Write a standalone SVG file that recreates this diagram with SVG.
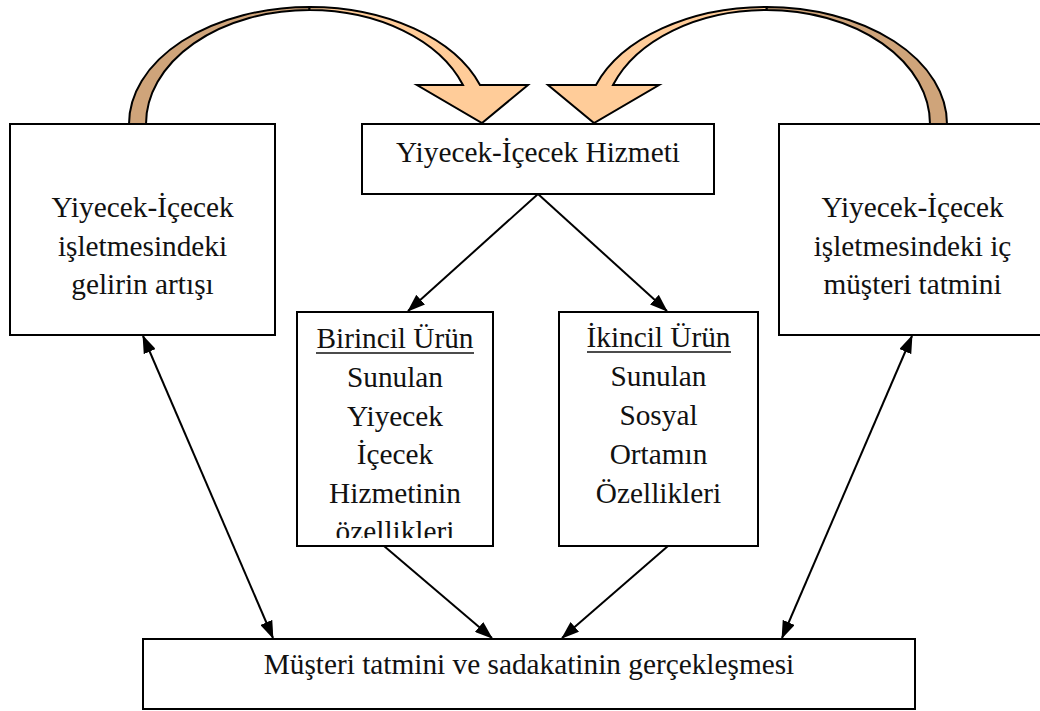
<svg xmlns="http://www.w3.org/2000/svg" width="1040" height="711" viewBox="0 0 1040 711">
  <style>
    .box { fill: #ffffff; stroke: #000000; stroke-width: 2; }
    .lbl { font-family: "Liberation Serif", "Times New Roman", serif; font-size: 29.3px; fill: #111111; text-anchor: middle; }
    .conn { stroke: #000000; stroke-width: 2; fill: none; }
    .uline { stroke: #111111; stroke-width: 1.5; }
    .band-dark { fill: #cfa47a; stroke: #000000; stroke-width: 2; stroke-linejoin: round; }
    .band-light { fill: #ffcc99; stroke: #000000; stroke-width: 2; stroke-linejoin: miter; }
  </style>
  <defs>
    <marker id="head" viewBox="0 0 18 13" markerWidth="18" markerHeight="13" refX="17" refY="6.5" orient="auto-start-reverse" markerUnits="userSpaceOnUse">
      <path d="M0,0 L18,6.5 L0,13 Z" fill="#000000"/>
    </marker>
    <clipPath id="clip-birincil">
      <rect x="297" y="312" width="196" height="226"/>
    </clipPath>
    <!-- curved ribbon arrow: dark underside on the tail, light face on the head -->
    <g id="curved-arrow-shape">
      <path class="band-dark" d="M129,124 A180.6,117 0 0 1 309.6,7 L309.4,10 A163.4,114 0 0 0 146,124 Z"/>
      <path class="band-light" d="M309.4,10 A163.4,114 0 0 1 463,85 L417,85 L482,123 L528,85 L480,85 A180.6,117 0 0 0 309.6,7 Z"/>
    </g>
  </defs>

  <!-- curved arrows from the side boxes into the service box -->
  <g id="curve-left">
    <use href="#curved-arrow-shape"/>
  </g>
  <g id="curve-right">
    <use href="#curved-arrow-shape" transform="matrix(-1 0 0 1 1076 0)"/>
  </g>

  <g id="connectors">
    <line class="conn" x1="538" y1="194" x2="408" y2="311" marker-end="url(#head)"/>
    <line class="conn" x1="538" y1="194" x2="667" y2="311" marker-end="url(#head)"/>
    <line class="conn" x1="384" y1="546" x2="492" y2="638" marker-end="url(#head)"/>
    <line class="conn" x1="668" y1="546" x2="562" y2="638" marker-end="url(#head)"/>
    <line class="conn" x1="143" y1="336" x2="273" y2="638" marker-start="url(#head)" marker-end="url(#head)"/>
    <line class="conn" x1="912" y1="336" x2="782" y2="638" marker-start="url(#head)" marker-end="url(#head)"/>
  </g>

  <g id="node-gelir">
    <rect class="box" x="10" y="124" width="265" height="211"/>
    <text class="lbl" x="142.5" y="217">Yiyecek-İçecek</text>
    <text class="lbl" x="142.5" y="255.5">işletmesindeki</text>
    <text class="lbl" x="142.5" y="294">gelirin artışı</text>
  </g>

  <g id="node-hizmet">
    <rect class="box" x="362" y="124" width="352" height="70"/>
    <text class="lbl" x="538" y="162">Yiyecek-İçecek Hizmeti</text>
  </g>

  <g id="node-ic-musteri">
    <rect class="box" x="779" y="124" width="270" height="211"/>
    <text class="lbl" x="912.5" y="217">Yiyecek-İçecek</text>
    <text class="lbl" x="912.5" y="255.5">işletmesindeki iç</text>
    <text class="lbl" x="912.5" y="294">müşteri tatmini</text>
  </g>

  <g id="node-birincil">
    <rect class="box" x="297" y="312" width="196" height="234"/>
    <g clip-path="url(#clip-birincil)">
      <text class="lbl" x="395" y="348">Birincil Ürün</text>
      <line class="uline" x1="316" y1="353" x2="474" y2="353"/>
      <text class="lbl" x="395" y="387">Sunulan</text>
      <text class="lbl" x="395" y="425.5">Yiyecek</text>
      <text class="lbl" x="395" y="464">İçecek</text>
      <text class="lbl" x="395" y="502.5">Hizmetinin</text>
      <text class="lbl" x="395" y="541">özellikleri</text>
    </g>
  </g>

  <g id="node-ikincil">
    <rect class="box" x="559" y="312" width="199" height="234"/>
    <text class="lbl" x="658.5" y="347">İkincil Ürün</text>
    <line class="uline" x1="587" y1="352" x2="731" y2="352"/>
    <text class="lbl" x="658.5" y="386">Sunulan</text>
    <text class="lbl" x="658.5" y="425">Sosyal</text>
    <text class="lbl" x="658.5" y="464">Ortamın</text>
    <text class="lbl" x="658.5" y="502.5">Özellikleri</text>
  </g>

  <g id="node-sadakat">
    <rect class="box" x="143" y="639" width="772" height="70"/>
    <text class="lbl" x="529" y="674">Müşteri tatmini ve sadakatinin gerçekleşmesi</text>
  </g>
</svg>
